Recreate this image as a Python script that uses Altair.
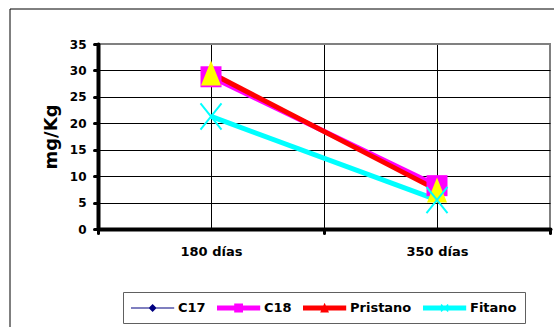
import altair as alt
import pandas as pd

# Sampling times and measured concentrations (mg/Kg)
categories = ["180 días", "350 días"]
series = ["C17", "C18", "Pristano", "Fitano"]
c17 = [28.8, 8.0]
c18 = [28.8, 8.2]
pristano = [29.5, 7.4]
fitano = [21.3, 5.5]
y_ticks = [0, 5, 10, 15, 20, 25, 30, 35]

values = {"C17": c17, "C18": c18, "Pristano": pristano, "Fitano": fitano}
rows = []
for s in series:
    for i, cat in enumerate(categories):
        rows.append({"serie": s, "tiempo": cat, "pos": i + 0.5, "valor": values[s][i]})
df = pd.DataFrame(rows)

FONT = "DejaVu Sans"
line_colors = {"C17": "#000080", "C18": "#FF00FF", "Pristano": "#FF0000", "Fitano": "#00FFFF"}
line_widths = {"C17": 1.5, "C18": 5, "Pristano": 5, "Fitano": 5}

n = len(categories)
x_values = [k / 2 for k in range(2 * n + 1)]
label_expr = " : ".join(
    f"datum.value == {i + 0.5} ? '{c}'" for i, c in enumerate(categories)
) + " : ''"

x_enc = alt.X(
    "pos:Q",
    scale=alt.Scale(domain=[0, n], nice=False, zero=False),
    axis=alt.Axis(
        values=x_values,
        labelExpr=label_expr,
        title=None,
        grid=True,
        gridColor="#000000",
        gridWidth=1,
        gridOpacity=alt.condition(f"datum.value > 0 && datum.value < {n}", alt.value(1), alt.value(0)),
        tickOpacity=alt.condition("datum.value % 1 == 0", alt.value(1), alt.value(0)),
        tickColor="#000000",
        tickSize=4,
        tickWidth=3,
        tickCap="round",
        domainColor="#000000",
        domainWidth=4,
        domainCap="round",
        labelFont=FONT,
        labelFontSize=13,
        labelFontWeight="bold",
        labelColor="#000000",
        labelPadding=12,
        labelFlush=False,
        labelOverlap=False,
    ),
)

y_enc = alt.Y(
    "valor:Q",
    scale=alt.Scale(domain=[0, 35], nice=False),
    axis=alt.Axis(
        values=y_ticks,
        title="mg/Kg",
        titleFont=FONT,
        titleFontSize=18,
        titleFontWeight="bold",
        titleColor="#000000",
        titlePadding=9,
        grid=True,
        gridColor=alt.condition("datum.value == 35", alt.value("#808080"), alt.value("#000000")),
        gridWidth=1,
        tickColor="#000000",
        tickSize=4,
        tickWidth=3,
        tickCap="round",
        domainColor="#000000",
        domainWidth=4,
        domainCap="round",
        labelFont=FONT,
        labelFontSize=12,
        labelFontWeight="bold",
        labelColor="#000000",
        labelPadding=8,
    ),
)

base = alt.Chart(df)

# Outer frame of the figure
frame = alt.Chart(alt.Data(values=[{}])).mark_rect(
    fillOpacity=0, stroke="#000000", strokeWidth=1
).encode(x=alt.value(-88), x2=alt.value(470), y=alt.value(-35), y2=alt.value(300))

lines = [
    base.transform_filter(alt.datum.serie == s)
    .mark_line(color=line_colors[s], strokeWidth=line_widths[s])
    .encode(x=x_enc, y=y_enc)
    for s in series
]

X_PATH = "M-1,-1.25L1,1.25M1,-1.25L-1,1.25"
TRI_PATH = "M0,-1.25L1,1.25L-1,1.25Z"

markers = [
    base.transform_filter(alt.datum.serie == "C17")
    .mark_point(shape="diamond", filled=True, color="#000080", size=70, opacity=1)
    .encode(x=x_enc, y=y_enc),
    base.transform_filter(alt.datum.serie == "C18")
    .mark_point(shape="square", filled=True, color="#FF00FF", size=441, opacity=1)
    .encode(x=x_enc, y=y_enc),
    base.transform_filter(alt.datum.serie == "Pristano")
    .mark_point(shape=TRI_PATH, filled=True, color="#FFFF00", size=400, opacity=1)
    .encode(x=x_enc, y=y_enc),
    base.transform_filter(alt.datum.serie == "Fitano")
    .mark_point(shape=X_PATH, filled=False, stroke="#00FFFF", strokeWidth=2, size=441, opacity=1)
    .encode(x=x_enc, y=y_enc),
]

# Legend symbols: a bar with the series marker in its middle (units of 8 px)
def shift(pts, dx):
    return [(x + dx, y) for x, y in pts]

def poly(pts):
    return "M" + "L".join(f"{x:.3f},{y:.3f}" for x, y in pts) + "Z"

def bar(h):
    return poly([(-1, -h), (4.4, -h), (4.4, h), (-1, h)])

cx = 1.7
legend_paths = [
    bar(0.07) + poly(shift([(0, -0.5), (0.5, 0), (0, 0.5), (-0.5, 0)], cx)),
    bar(0.31) + poly(shift([(-0.55, -0.55), (0.55, -0.55), (0.55, 0.55), (-0.55, 0.55)], cx)),
    bar(0.31) + poly(shift([(0, -0.65), (0.55, 0.55), (-0.55, 0.55)], cx)),
    bar(0.31)
    + poly(shift([(-0.5, -0.38), (-0.38, -0.5), (0.5, 0.38), (0.38, 0.5)], cx))
    + poly(shift([(0.38, -0.5), (0.5, -0.38), (-0.38, 0.5), (-0.5, 0.38)], cx)),
]

legend = alt.Legend(
    title=None,
    orient="none",
    legendX=25,
    legendY=248,
    direction="horizontal",
    strokeColor="#606060",
    fillColor="#FFFFFF",
    padding=8,
    symbolSize=256,
    symbolStrokeWidth=0,
    symbolOpacity=1,
    labelFont=FONT,
    labelFontSize=13,
    labelFontWeight="bold",
    labelColor="#000000",
    labelOffset=31,
    columnPadding=11,
)

legend_layer = base.transform_filter("false").mark_point(filled=True, opacity=1, size=256).encode(
    x=x_enc,
    y=y_enc,
    color=alt.Color(
        "serie:N",
        scale=alt.Scale(domain=series, range=[line_colors[s] for s in series]),
        legend=legend,
    ),
    shape=alt.Shape("serie:N", scale=alt.Scale(domain=series, range=legend_paths), legend=legend),
)

chart = (
    alt.layer(frame, *lines, *markers, legend_layer)
    .properties(
        width=452,
        height=185,
        padding={"left": 98, "top": 44, "right": 4, "bottom": 98},
        autosize=alt.AutoSizeParams(type="none"),
        background="#FFFFFF",
    )
    .configure_view(stroke="#808080", strokeWidth=2)
)

chart.save("out.html", embed_options={"renderer": "svg", "actions": False})
